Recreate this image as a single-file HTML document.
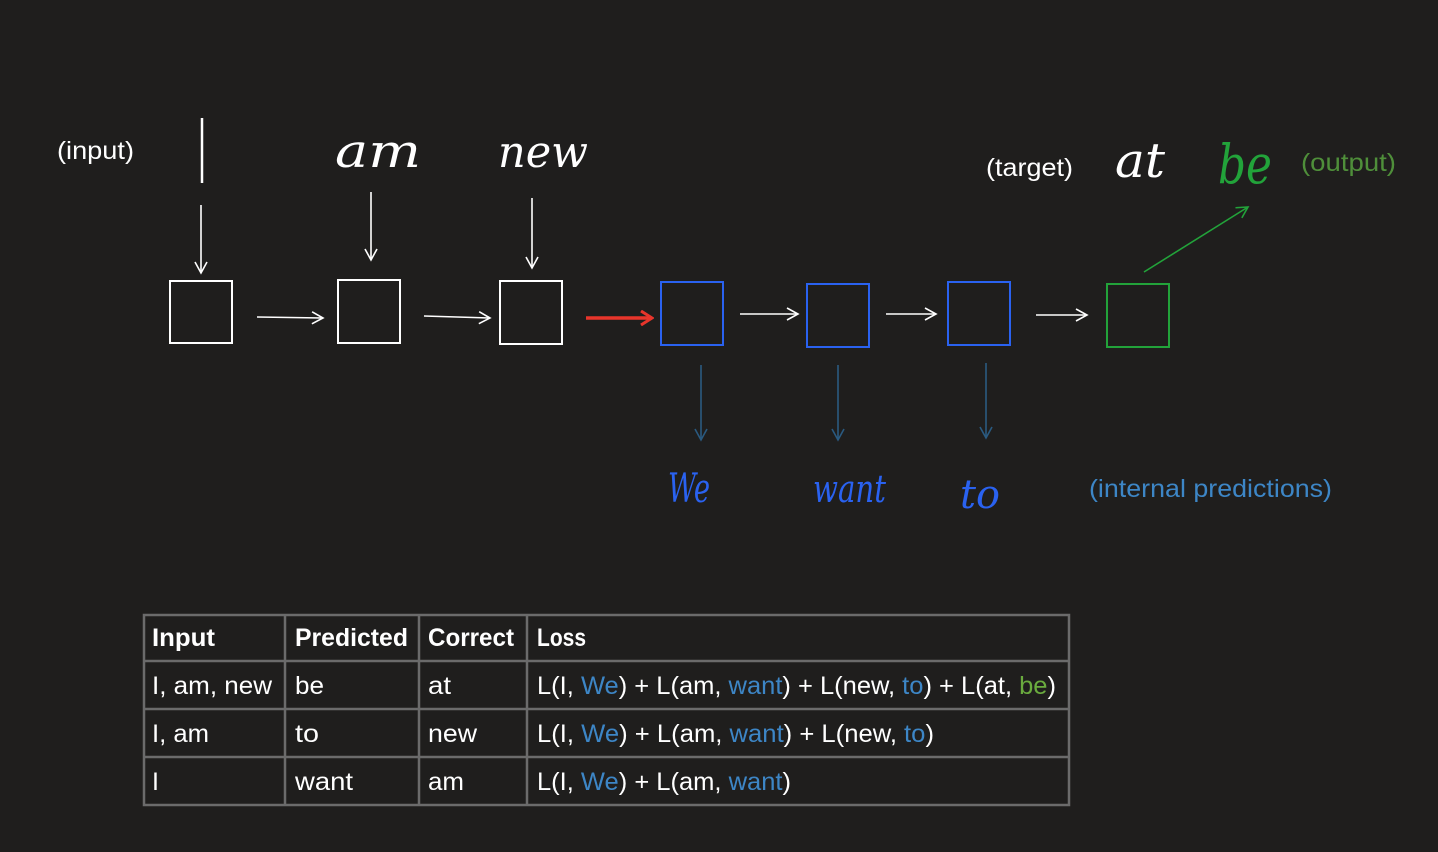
<!DOCTYPE html>
<html><head><meta charset="utf-8"><style>
html,body{margin:0;padding:0;background:#1f1e1d;}
svg{display:block}
text{font-family:"Liberation Sans",sans-serif}
.h{font-family:"DejaVu Serif","Liberation Serif",serif;font-style:italic}
</style></head><body>
<svg width="1438" height="852" viewBox="0 0 1438 852" xmlns="http://www.w3.org/2000/svg">
<rect width="1438" height="852" fill="#1f1e1d"/>
<defs>
<marker id="aw" markerWidth="14" markerHeight="14" refX="12" refY="7" orient="auto" markerUnits="userSpaceOnUse"><path d="M1,1 L12,7 L1,13" fill="none" stroke="#fff" stroke-width="1.6"/></marker>
<marker id="ab" markerWidth="14" markerHeight="14" refX="12" refY="7" orient="auto" markerUnits="userSpaceOnUse"><path d="M1,1 L12,7 L1,13" fill="none" stroke="#2a5a80" stroke-width="1.6"/></marker>
<marker id="ag" markerWidth="14" markerHeight="14" refX="12" refY="7" orient="auto" markerUnits="userSpaceOnUse"><path d="M1,1 L12,7 L1,13" fill="none" stroke="#22a33a" stroke-width="1.6"/></marker>
<marker id="ar" markerWidth="14" markerHeight="16" refX="12" refY="8" orient="auto" markerUnits="userSpaceOnUse"><path d="M1,1 L12,8 L1,15" fill="none" stroke="#e8352b" stroke-width="3"/></marker>
</defs>
<g fill="#fff">
<text x="57" y="159" font-size="25" textLength="77" lengthAdjust="spacingAndGlyphs">(input)</text>
<text x="986" y="176" font-size="25" textLength="87" lengthAdjust="spacingAndGlyphs">(target)</text>
</g>
<text x="1301" y="171" font-size="25" fill="#4f8f3a" textLength="95" lengthAdjust="spacingAndGlyphs">(output)</text>
<text x="1089" y="497" font-size="25" fill="#3d86c6" textLength="243" lengthAdjust="spacingAndGlyphs">(internal predictions)</text>
<!-- handwritten -->
<line x1="202" y1="118" x2="202" y2="183" stroke="#fff" stroke-width="2.5"/>
<text class="h" x="335" y="167" font-size="46" fill="#fff" textLength="86" lengthAdjust="spacingAndGlyphs">am</text>
<text class="h" x="498" y="167" font-size="44" fill="#fff" textLength="90" lengthAdjust="spacingAndGlyphs">new</text>
<text class="h" x="1115" y="177" font-size="48" fill="#fff" textLength="50" lengthAdjust="spacingAndGlyphs">at</text>
<text class="h" x="1218" y="183" font-size="54" fill="#22a33a" textLength="54" lengthAdjust="spacingAndGlyphs">be</text>
<text class="h" x="668" y="502" font-size="40" fill="#2a62f0" textLength="42" lengthAdjust="spacingAndGlyphs">We</text>
<text class="h" x="813" y="502" font-size="38" fill="#2a62f0" textLength="73" lengthAdjust="spacingAndGlyphs">want</text>
<text class="h" x="960" y="508" font-size="40" fill="#2a62f0" textLength="40" lengthAdjust="spacingAndGlyphs">to</text>
<!-- arrows -->
<g stroke="#fff" stroke-width="1.6" fill="none">
<line x1="201" y1="205" x2="201" y2="273" marker-end="url(#aw)"/>
<line x1="371" y1="192" x2="371" y2="260" marker-end="url(#aw)"/>
<line x1="532" y1="198" x2="532" y2="268" marker-end="url(#aw)"/>
<line x1="257" y1="317" x2="323" y2="318" marker-end="url(#aw)"/>
<line x1="424" y1="316" x2="490" y2="318" marker-end="url(#aw)"/>
<line x1="740" y1="314" x2="798" y2="314" marker-end="url(#aw)"/>
<line x1="886" y1="314" x2="936" y2="314" marker-end="url(#aw)"/>
<line x1="1036" y1="315" x2="1087" y2="315" marker-end="url(#aw)"/>
</g>
<line x1="586" y1="318" x2="652" y2="318" stroke="#e8352b" stroke-width="3.5" marker-end="url(#ar)"/>
<g stroke="#2a5a80" stroke-width="1.6">
<line x1="701" y1="365" x2="701" y2="440" marker-end="url(#ab)"/>
<line x1="838" y1="365" x2="838" y2="440" marker-end="url(#ab)"/>
<line x1="986" y1="363" x2="986" y2="438" marker-end="url(#ab)"/>
</g>
<line x1="1144" y1="272" x2="1248" y2="207" stroke="#22a33a" stroke-width="1.6" marker-end="url(#ag)"/>
<!-- boxes -->
<g fill="none" stroke-width="2">
<rect x="170" y="281" width="62" height="62" stroke="#fff"/>
<rect x="338" y="280" width="62" height="63" stroke="#fff"/>
<rect x="500" y="281" width="62" height="63" stroke="#fff"/>
<rect x="661" y="282" width="62" height="63" stroke="#2a62f0"/>
<rect x="807" y="284" width="62" height="63" stroke="#2a62f0"/>
<rect x="948" y="282" width="62" height="63" stroke="#2a62f0"/>
<rect x="1107" y="284" width="62" height="63" stroke="#22a33a"/>
</g>
<!-- table -->
<g stroke="#6b6b6b" stroke-width="2.5" fill="none">
<rect x="144" y="615" width="925" height="190"/>
<line x1="144" y1="661" x2="1069" y2="661"/>
<line x1="144" y1="709" x2="1069" y2="709"/>
<line x1="144" y1="757" x2="1069" y2="757"/>
<line x1="285" y1="615" x2="285" y2="805"/>
<line x1="419" y1="615" x2="419" y2="805"/>
<line x1="527" y1="615" x2="527" y2="805"/>
</g>
<g fill="#fff" font-size="25">
<text x="152" y="646" font-weight="bold" textLength="63" lengthAdjust="spacingAndGlyphs">Input</text>
<text x="295" y="646" font-weight="bold" textLength="113" lengthAdjust="spacingAndGlyphs">Predicted</text>
<text x="428" y="646" font-weight="bold" textLength="86" lengthAdjust="spacingAndGlyphs">Correct</text>
<text x="537" y="646" font-weight="bold" textLength="49" lengthAdjust="spacingAndGlyphs">Loss</text>
<text x="152" y="694" textLength="120" lengthAdjust="spacingAndGlyphs">I, am, new</text>
<text x="295" y="694" textLength="29" lengthAdjust="spacingAndGlyphs">be</text>
<text x="428" y="694" textLength="23" lengthAdjust="spacingAndGlyphs">at</text>
<text x="537" y="694" textLength="519" lengthAdjust="spacingAndGlyphs">L(I, <tspan fill="#3d86c6">We</tspan>) + L(am, <tspan fill="#3d86c6">want</tspan>) + L(new, <tspan fill="#3d86c6">to</tspan>) + L(at, <tspan fill="#6aab3e">be</tspan>)</text>
<text x="152" y="742" textLength="57" lengthAdjust="spacingAndGlyphs">I, am</text>
<text x="295" y="742" textLength="24" lengthAdjust="spacingAndGlyphs">to</text>
<text x="428" y="742" textLength="49" lengthAdjust="spacingAndGlyphs">new</text>
<text x="537" y="742" textLength="397" lengthAdjust="spacingAndGlyphs">L(I, <tspan fill="#3d86c6">We</tspan>) + L(am, <tspan fill="#3d86c6">want</tspan>) + L(new, <tspan fill="#3d86c6">to</tspan>)</text>
<text x="152" y="790">I</text>
<text x="295" y="790" textLength="58" lengthAdjust="spacingAndGlyphs">want</text>
<text x="428" y="790" textLength="36" lengthAdjust="spacingAndGlyphs">am</text>
<text x="537" y="790" textLength="254" lengthAdjust="spacingAndGlyphs">L(I, <tspan fill="#3d86c6">We</tspan>) + L(am, <tspan fill="#3d86c6">want</tspan>)</text>
</g>
</svg>
</body></html>
